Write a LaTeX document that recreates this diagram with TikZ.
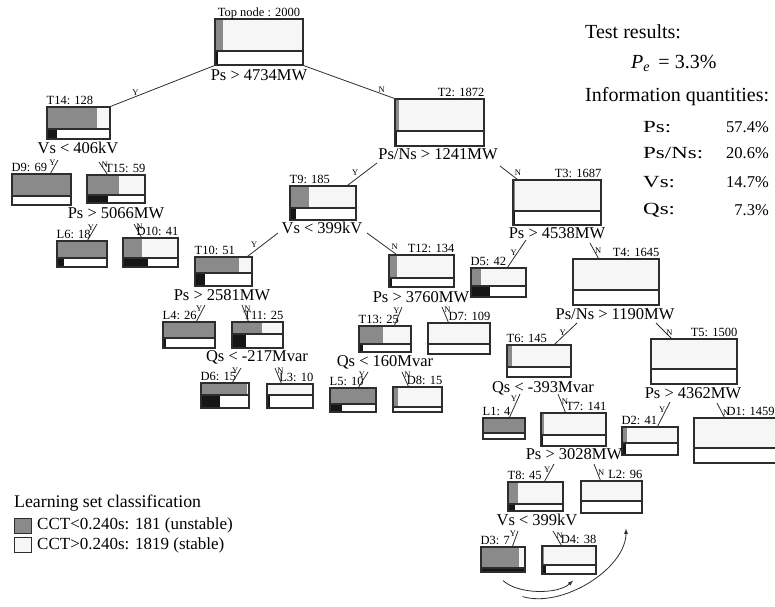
\documentclass[tikz,border=0pt]{standalone}
\usepackage{fontspec}
\setmainfont{Liberation Serif}
\usetikzlibrary{fit}
\definecolor{unstfill}{RGB}{138,138,138}
\definecolor{stabfill}{RGB}{246,246,246}
\definecolor{darkfill}{RGB}{22,22,22}
\definecolor{linecol}{RGB}{45,45,45}

\tikzset{
  cond/.style={font=\fontsize{16.5}{18}\selectfont, inner sep=0pt},
  boxlab/.style={font=\fontsize{12.5}{13}\selectfont, inner sep=0pt},
  yn/.style={font=\fontsize{8.5}{9}\selectfont, inner sep=0.6pt},
  edge/.style={draw=linecol, line width=0.8pt},
  tframe/.style={draw=linecol, line width=1.1pt, inner sep=0pt},
  panel/.style={font=\fontsize{20}{22}\selectfont, inner sep=0pt},
  qty/.style={font=\fontsize{16.5}{18}\selectfont, inner sep=0pt},
  qtyname/.style={font=\fontsize{17}{18}\selectfont\addfontfeature{FakeStretch=1.35}, inner sep=0pt},
  leg/.style={font=\fontsize{17}{19}\selectfont, inner sep=0pt},
  leghd/.style={font=\fontsize{17.8}{19}\selectfont, inner sep=0pt},
  legsq/.style={draw=linecol, line width=0.8pt, minimum width=17pt, minimum height=15pt, inner sep=0pt},
}

% tree box: name, x1, y1, x2, y2, divider, end of grey part, end of black part
\newcommand\tbox[8]{%
  \fill[stabfill] (#2,#3) rectangle (#4,#6);
  \fill[unstfill] (#2,#3) rectangle (#7,#6);
  \fill[white] (#2,#6) rectangle (#4,#5);
  \fill[darkfill] (#2,#6) rectangle (#8,#5);
  \draw[linecol, line width=1.1pt] (#2,#6) -- (#4,#6);
  \node[tframe, fit={(#2,#3) (#4,#5)}] (#1) {};
}

\begin{document}
\begin{tikzpicture}[x=1pt, y=-1pt]
    \useasboundingbox (0,0) rectangle (775,606);
    \clip (0,0) rectangle (775,606);

    % boxes
    \tbox{Top}{215}{19}{303}{65}{51}{223}{217.5}
    \tbox{T14}{47}{107}{110}{139}{129}{97}{57}
    \tbox{T2}{395}{99}{484}{146}{131}{399}{396.5}
    \tbox{D9}{12}{174}{71}{205}{196}{71}{12}
    \tbox{T15}{87}{175}{145}{203}{195}{119}{108}
    \tbox{T9}{290}{186}{356}{220}{208}{309}{296}
    \tbox{T3}{513}{180}{601}{225}{211}{515}{514.5}
    \tbox{L6}{57}{241}{107}{267}{258}{107}{64}
    \tbox{D10}{123}{238}{178}{267}{258}{142}{148}
    \tbox{T10}{195}{257}{252}{286}{273}{239}{205}
    \tbox{T12}{389}{255}{454}{287}{278}{397}{392}
    \tbox{D5}{471}{268}{526}{297}{286}{481}{490}
    \tbox{T4}{573}{259}{659}{305}{290}{573.5}{573.5}
    \tbox{L4}{163}{322}{215}{348}{338}{215}{166}
    \tbox{T11}{232}{322}{283}{348}{334}{262}{246}
    \tbox{T13}{359}{326}{411}{352}{344}{383}{363}
    \tbox{D7}{428}{323}{490}{354}{344}{428}{428}
    \tbox{T6}{507}{345}{571}{377}{367}{512}{508}
    \tbox{T5}{651}{339}{737}{384}{369}{651}{651}
    \tbox{D6}{201}{383}{249}{408}{395}{247}{220}
    \tbox{L3}{267}{384}{313}{408}{395}{267}{270}
    \tbox{L5}{330}{388}{376}{412}{404}{376}{342}
    \tbox{D8}{393}{387}{442}{412}{407}{398}{393}
    \tbox{L1}{483}{418}{525}{439}{433}{525}{483}
    \tbox{T7}{541}{413}{606}{446}{435}{544}{543}
    \tbox{D2}{622}{427}{678}{455}{443}{627}{626}
    \tbox{D1}{694}{418}{800}{463}{448}{694}{694}
    \tbox{T8}{508}{482}{563}{511}{504}{518}{515}
    \tbox{L2}{581}{481}{642}{513}{501}{581}{581}
    \tbox{D3}{481}{547}{525}{572}{568}{519}{525}
    \tbox{D4}{542}{546}{596}{574}{565}{544}{546}

    % box labels
    \node[boxlab, anchor=base] (lTop) at ([yshift=2pt]Top.north) {Top node : 2000};
    \node[boxlab, anchor=base west] (lT14) at ([yshift=2pt]T14.north west) {T14: 128};
    \node[boxlab, anchor=base east] (lT2) at ([yshift=2pt]T2.north east) {T2: 1872};
    \node[boxlab, anchor=base west] (lD9) at ([yshift=2pt]D9.north west) {D9: 69};
    \node[boxlab, anchor=base east] (lT15) at ([yshift=2pt]T15.north east) {T15: 59};
    \node[boxlab, anchor=base west] (lT9) at ([yshift=2pt]T9.north west) {T9: 185};
    \node[boxlab, anchor=base east] (lT3) at ([yshift=2pt]T3.north east) {T3: 1687};
    \node[boxlab, anchor=base west] (lL6) at ([yshift=2pt]L6.north west) {L6: 18};
    \node[boxlab, anchor=base east] (lD10) at ([yshift=2pt]D10.north east) {D10: 41};
    \node[boxlab, anchor=base west] (lT10) at ([yshift=2pt]T10.north west) {T10: 51};
    \node[boxlab, anchor=base east] (lT12) at ([yshift=2pt]T12.north east) {T12: 134};
    \node[boxlab, anchor=base west] (lD5) at ([yshift=2pt]D5.north west) {D5: 42};
    \node[boxlab, anchor=base east] (lT4) at ([yshift=2pt]T4.north east) {T4: 1645};
    \node[boxlab, anchor=base west] (lL4) at ([yshift=2pt]L4.north west) {L4: 26};
    \node[boxlab, anchor=base east] (lT11) at ([yshift=2pt]T11.north east) {T11: 25};
    \node[boxlab, anchor=base west] (lT13) at ([yshift=2pt]T13.north west) {T13: 25};
    \node[boxlab, anchor=base east] (lD7) at ([yshift=2pt]D7.north east) {D7: 109};
    \node[boxlab, anchor=base west] (lT6) at ([yshift=2pt]T6.north west) {T6: 145};
    \node[boxlab, anchor=base east] (lT5) at ([yshift=2pt]T5.north east) {T5: 1500};
    \node[boxlab, anchor=base west] (lD6) at ([yshift=2pt]D6.north west) {D6: 15};
    \node[boxlab, anchor=base east] (lL3) at ([yshift=2pt]L3.north east) {L3: 10};
    \node[boxlab, anchor=base west] (lL5) at ([yshift=2pt]L5.north west) {L5: 10};
    \node[boxlab, anchor=base east] (lD8) at ([yshift=2pt]D8.north east) {D8: 15};
    \node[boxlab, anchor=base west] (lL1) at ([yshift=2pt]L1.north west) {L1: 4};
    \node[boxlab, anchor=base east] (lT7) at ([yshift=2pt]T7.north east) {T7: 141};
    \node[boxlab, anchor=base west] (lD2) at ([yshift=2pt]D2.north west) {D2: 41};
    \node[boxlab, anchor=base west] (lD1) at ([shift={(33,-2)}]D1.north west) {D1: 1459};
    \node[boxlab, anchor=base west] (lT8) at ([yshift=2pt]T8.north west) {T8: 45};
    \node[boxlab, anchor=base east] (lL2) at ([yshift=2pt]L2.north east) {L2: 96};
    \node[boxlab, anchor=base west] (lD3) at ([yshift=2pt]D3.north west) {D3: 7};
    \node[boxlab, anchor=base east] (lD4) at ([yshift=2pt]D4.north east) {D4: 38};

    % split tests
    \node[cond] (c0) at (259,75) {Ps > 4734MW};
    \node[cond] (c14) at (78,148) {Vs < 406kV};
    \node[cond] (c2) at (438,154) {Ps/Ns > 1241MW};
    \node[cond] (c15) at (116,213) {Ps > 5066MW};
    \node[cond] (c9) at (322,228) {Vs < 399kV};
    \node[cond] (c3) at (557,233) {Ps > 4538MW};
    \node[cond] (c10) at (222,295) {Ps > 2581MW};
    \node[cond] (c12) at (421,297) {Ps > 3760MW};
    \node[cond] (c4) at (615,314) {Ps/Ns > 1190MW};
    \node[cond] (c11) at (257,357) {Qs < -217Mvar};
    \node[cond] (c13) at (385,362) {Qs < 160Mvar};
    \node[cond] (c6) at (543,388) {Qs < -393Mvar};
    \node[cond] (c5) at (693,393) {Ps > 4362MW};
    \node[cond] (c7) at (574,454) {Ps > 3028MW};
    \node[cond] (c8) at (537,520) {Vs < 399kV};

    % branches
    \draw[edge] (Top.south west) -- (T14.north east) node[yn, pos=.76, above] {Y};
    \draw[edge] (Top.south east) -- (T2.north west) node[yn, pos=.86, above] {N};
    \draw[edge] ([shift={(-20,12)}]c14.center) -- ([xshift=39pt]D9.north west) node[yn, pos=.2, left] {Y};
    \draw[edge] ([shift={(21,14)}]c14.center) -- ([xshift=21pt]T15.north west) node[yn, pos=.2, right] {N};
    \draw[edge] ([shift={(-61,9)}]c2.center) -- ([xshift=58pt]T9.north west) node[yn, pos=.6, above left] {Y};
    \draw[edge] ([shift={(62,12)}]c2.center) -- ([xshift=5pt]T3.north west) node[yn, pos=.8, above right] {N};
    \draw[edge] ([shift={(-19,11)}]c15.center) -- ([xshift=31pt]L6.north west) node[yn, pos=.2, left] {Y};
    \draw[edge] ([shift={(18,11)}]c15.center) -- ([xshift=19pt]D10.north west) node[yn, pos=.2, right] {N};
    \draw[edge] ([shift={(-44,5)}]c9.center) -- ([xshift=53pt]T10.north west) node[yn, pos=.65, above left] {Y};
    \draw[edge] ([shift={(45,5)}]c9.center) -- ([xshift=8pt]T12.north west) node[yn, pos=.8, above right] {N};
    \draw[edge] ([shift={(-31,7)}]c3.center) -- ([xshift=37pt]D5.north west) node[yn, pos=.45, left] {Y};
    \draw[edge] ([shift={(33,10)}]c3.center) -- ([xshift=26pt]T4.north west) node[yn, pos=.5, right] {N};
    \draw[edge] ([shift={(-17,10)}]c10.center) -- ([xshift=34pt]L4.north west) node[yn, pos=.2, left] {Y};
    \draw[edge] ([shift={(20,10)}]c10.center) -- ([xshift=17pt]T11.north west) node[yn, pos=.2, right] {N};
    \draw[edge] ([shift={(-19,10)}]c12.center) -- ([xshift=36pt]T13.north west) node[yn, pos=.2, left] {Y};
    \draw[edge] ([shift={(21,10)}]c12.center) -- ([xshift=21pt]D7.north west) node[yn, pos=.2, right] {N};
    \draw[edge] ([shift={(-38,9)}]c4.center) -- ([xshift=48pt]T6.north west) node[yn, pos=.45, left] {Y};
    \draw[edge] ([shift={(41,9)}]c4.center) -- ([xshift=21pt]T5.north west) node[yn, pos=.6, right] {N};
    \draw[edge] ([shift={(-16,11)}]c11.center) -- ([xshift=32pt]D6.north west) node[yn, pos=.2, left] {Y};
    \draw[edge] ([shift={(18,11)}]c11.center) -- ([xshift=15pt]L3.north west) node[yn, pos=.2, right] {N};
    \draw[edge] ([shift={(-17,10)}]c13.center) -- ([xshift=29pt]L5.north west) node[yn, pos=.2, left] {Y};
    \draw[edge] ([shift={(17,10)}]c13.center) -- ([xshift=16pt]D8.north west) node[yn, pos=.2, right] {N};
    \draw[edge] ([shift={(-23,6)}]c6.center) -- ([xshift=27pt]L1.north west) node[yn, pos=.2, left] {Y};
    \draw[edge] ([shift={(15,6)}]c6.center) -- ([xshift=25pt]T7.north west) node[yn, pos=.4, right] {N};
    \draw[edge] ([shift={(-23,9)}]c5.center) -- ([xshift=36pt]D2.north west) node[yn, pos=.3, left] {Y};
    \draw[edge] ([shift={(24,10)}]c5.center) -- ([xshift=31pt]D1.north west) node[yn, pos=.7, right] {N};
    \draw[edge] ([shift={(-20,10)}]c7.center) -- ([xshift=37pt]T8.north west) node[yn, pos=.3, left] {Y};
    \draw[edge] ([shift={(20,10)}]c7.center) -- ([xshift=20pt]L2.north west) node[yn, pos=.5, right] {N};
    \draw[edge] ([shift={(-19,11)}]c8.center) -- ([xshift=32pt]D3.north west) node[yn, pos=.2, left] {Y};
    \draw[edge] ([shift={(16,11)}]c8.center) -- ([xshift=20pt]D4.north west) node[yn, pos=.3, right] {N};

    % curved arrows under the last split
    \draw[edge, -latex] ([yshift=-8pt]D3.south) .. controls +(15,14) and +(-15,14) .. ([shift={(4,6)}]D4.south);
    \draw[edge, -latex] ([shift={(-3,24)}]D3.south east) .. controls +(40,12) and +(0,40) .. ([shift={(14.5,15)}]L2.south);

    % test results and information quantities
    \node[panel, anchor=west] (testres) at (585,32) {Test results:};
    \node[panel, anchor=west] (perr) at (631,63) {\textit{P}\textsubscript{\textit{e}}\, = 3.3\%};
    \node[panel, anchor=west] (infoq) at (585,97) {Information quantities:};
    \node[qtyname, anchor=west] (qPs) at (643,127) {Ps:};
    \node[qty, anchor=east] (vPs) at (769,127) {57.4\%};
    \node[qtyname, anchor=west] (qPsNs) at (643,153) {Ps/Ns:};
    \node[qty, anchor=east] (vPsNs) at (769,153) {20.6\%};
    \node[qtyname, anchor=west] (qVs) at (643,182) {Vs:};
    \node[qty, anchor=east] (vVs) at (769,182) {14.7\%};
    \node[qtyname, anchor=west] (qQs) at (643,210) {Qs:};
    \node[qty, anchor=east] (vQs) at (769,210) {7.3\%};

    % legend
    \node[leghd, anchor=west] (leghead) at (14,503) {Learning set classification};
    \node[legsq, fill=unstfill] (sqU) at (22.5,525.5) {};
    \node[leg, anchor=west] (legU) at (37,525) {CCT<0.240s: 181 (unstable)};
    \node[legsq, fill=stabfill] (sqS) at (22.5,544.5) {};
    \node[leg, anchor=west] (legS) at (37,545) {CCT>0.240s: 1819 (stable)};
\end{tikzpicture}
\end{document}
